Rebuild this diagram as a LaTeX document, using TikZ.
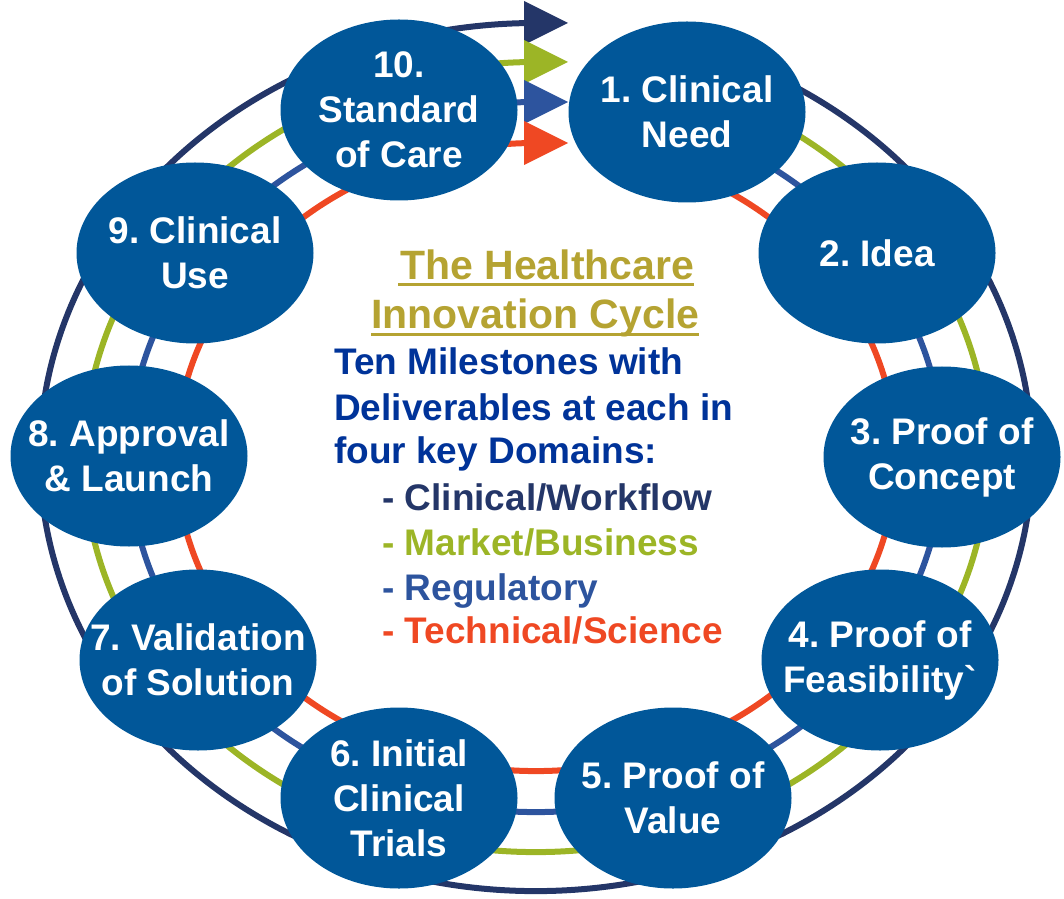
\documentclass[tikz,border=0pt]{standalone}
\usepackage{fontspec}
\setmainfont{Liberation Sans}[Ligatures=TeXOff]
\usetikzlibrary{shapes.geometric,calc}
\definecolor{ringnavy}{RGB}{36,54,104}
\definecolor{ringgreen}{RGB}{156,181,38}
\definecolor{ringblue}{RGB}{45,84,158}
\definecolor{ringorange}{RGB}{239,72,35}
\definecolor{nodefill}{RGB}{1,87,153}
\definecolor{titlegold}{RGB}{181,163,50}
\definecolor{textblue}{RGB}{0,51,153}
\frenchspacing
\begin{document}
\frenchspacing
\begin{tikzpicture}[x=1pt,y=1pt,
  milestone/.style={ellipse, fill=nodefill, minimum width=237pt, minimum height=181pt, inner sep=0pt},
  mtext/.style={inner sep=0pt, text=white, align=center, font=\fontsize{37}{45}\selectfont\bfseries},
  ringline/.style={line width=6pt},
  bodytext/.style={anchor=base west, inner sep=0pt, font=\fontsize{37}{45}\selectfont\bfseries},
  titletext/.style={anchor=base west, inner sep=0pt, text=titlegold, font=\fontsize{41}{49}\selectfont\bfseries},
  uline/.style={titlegold, line width=3pt}
]
\useasboundingbox (0,0) rectangle (1064,898);
\coordinate (C) at (536,441);
\foreach \col/\rx/\ry in {ringnavy/496/434, ringgreen/452/395, ringblue/407/355, ringorange/360/314} {
  \draw[ringline, \col] ($(C)+({\rx*cos(66)},{\ry*sin(66)})$) arc[start angle=66, end angle=-270, x radius=\rx, y radius=\ry];
  \fill[\col] ($(C)+(-12,\ry+22)$) -- ($(C)+(32,\ry)$) -- ($(C)+(-12,\ry-22)$) -- cycle;
}
\node[milestone] (m1) at (687,786) {};
\node[milestone] (m2) at (877,645) {};
\node[milestone] (m3) at (942,441) {};
\node[milestone] (m4) at (880,238) {};
\node[milestone] (m5) at (673,100) {};
\node[milestone] (m6) at (399,100) {};
\node[milestone] (m7) at (198,238) {};
\node[milestone] (m8) at (129,442) {};
\node[milestone] (m9) at (195,645) {};
\node[milestone] (m10) at (399,788) {};
\node[mtext] (m1t) at (m1.center) {1. Clinical\\Need};
\node[mtext] (m2t) at (m2.center) {2. Idea};
\node[mtext] (m3t) at (m3.center) {3. Proof of\\Concept};
\node[mtext] (m4t) at (m4.center) {4. Proof of\\Feasibility\symbol{96}};
\node[mtext] (m5t) at (m5.center) {5. Proof of\\Value};
\node[mtext] (m6t) at (m6.center) {6. Initial\\Clinical\\Trials};
\node[mtext] (m7t) at (m7.center) {7. Validation\\of Solution};
\node[mtext] (m8t) at (m8.center) {8. Approval\\\& Launch};
\node[mtext] (m9t) at (m9.center) {9. Clinical\\Use};
\node[mtext] (m10t) at (m10.center) {10.\\Standard\\of Care};
\node[titletext] (t1) at (400,618) {The Healthcare};
\node[titletext] (t2) at (371,569) {Innovation Cycle};
\draw[uline] ([xshift=-2pt,yshift=-5pt]t1.base west) -- ([yshift=-5pt]t1.base east);
\draw[uline] ([yshift=-6pt]t2.base west) -- ([yshift=-6pt]t2.base east);
\node[bodytext, text=textblue] (b1) at (334,523) {Ten Milestones with};
\node[bodytext, text=textblue] (b2) at (334,478) {Deliverables at each in};
\node[bodytext, text=textblue] (b3) at (334,435) {four key Domains:};
\node[bodytext, text=ringnavy] (b4) at (382,388) {- Clinical/Workflow};
\node[bodytext, text=ringgreen] (b5) at (382,343) {- Market/Business};
\node[bodytext, text=ringblue] (b6) at (382,298) {- Regulatory};
\node[bodytext, text=ringorange] (b7) at (382,255) {- Technical/Science};
\end{tikzpicture}
\end{document}
